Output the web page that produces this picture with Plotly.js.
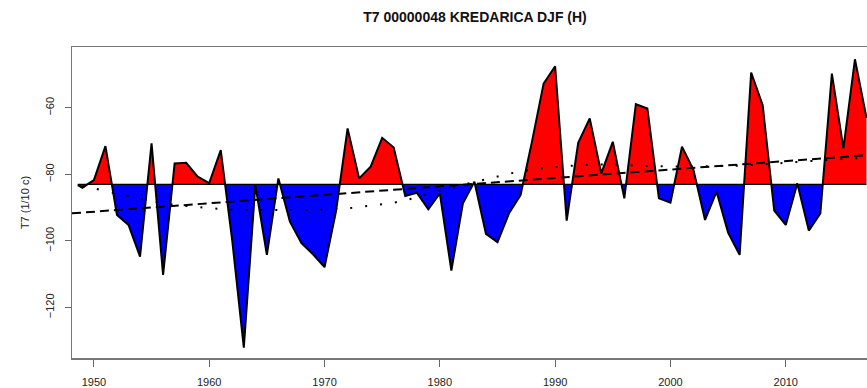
<!DOCTYPE html>
<html>
<head>
<meta charset="utf-8">
<script src="https://cdn.plot.ly/plotly-3.0.1.min.js"></script>
<style>
  html, body { margin: 0; padding: 0; overflow: hidden; background: #fff; }
  #chart { width: 890px; height: 388px; }
</style>
</head>
<body>
<div id="chart"></div>
<script>
// ---- data ----
const years = [1948.6, 1949, 1950, 1951, 1952, 1953, 1954, 1955, 1956, 1957, 1958,
  1959, 1960, 1961, 1962, 1963, 1964, 1965, 1966, 1967, 1968,
  1969, 1970, 1971, 1972, 1973, 1974, 1975, 1976, 1977, 1978,
  1979, 1980, 1981, 1982, 1983, 1984, 1985, 1986, 1987, 1988,
  1989, 1990, 1991, 1992, 1993, 1994, 1995, 1996, 1997, 1998,
  1999, 2000, 2001, 2002, 2003, 2004, 2005, 2006, 2007, 2008,
  2009, 2010, 2011, 2012, 2013, 2014, 2015, 2016, 2017];
const t7 = [-83.2, -84.0, -81.7, -71.5, -92.2, -95.2, -104.7, -70.7, -110.2, -76.7, -76.5,
  -80.7, -82.6, -72.7, -100.0, -132.1, -83.2, -104.2, -81.2, -94.2, -100.7,
  -104.0, -107.9, -91.0, -66.2, -81.2, -77.7, -69.0, -71.9, -86.5, -85.5,
  -90.5, -85.7, -108.9, -88.7, -82.2, -97.9, -100.4, -91.7, -86.2, -70.0,
  -52.7, -47.5, -93.9, -70.5, -63.2, -79.7, -70.2, -87.2, -58.9, -60.2,
  -87.2, -88.5, -71.7, -78.7, -93.7, -85.2, -97.5, -104.2, -49.4, -59.2,
  -90.9, -95.2, -82.7, -96.9, -91.7, -49.7, -72.2, -45.4, -63.0];
// smooth (dotted) curve
const smoothYears = [1949, 1950, 1952, 1954, 1956, 1958, 1960, 1962, 1964, 1966, 1968,
  1970, 1972, 1974, 1976, 1978, 1980, 1982, 1984, 1986, 1988, 1990, 1992, 1994,
  1996, 1998, 2000, 2002, 2004, 2006, 2008, 2010, 2013, 2017];
const smoothVals = [-83.6, -84.2, -85.8, -87.3, -88.7, -89.5, -90.1, -90.6, -90.7, -90.7, -90.7,
  -90.6, -90.2, -89.4, -88.5, -86.9, -84.9, -83.1, -81.5, -79.8, -78.6, -77.8, -77.3, -77.0,
  -77.2, -77.5, -77.6, -77.6, -77.5, -77.4, -77.0, -76.5, -75.8, -75.0];
const xTicks = [1950, 1960, 1970, 1980, 1990, 2000, 2010];
const yTicks = [-120, -100, -80, -60];
const xRange = [1948.1, 2018.0];
const yRange = [-135.2, -41.7];

// ---- derived ----
const n = years.length;
const base = t7.reduce((a, b) => a + b, 0) / n;

// split series at the baseline so the fill changes colour exactly there
const xs = [], ys = [];
for (let i = 0; i < n; i++) {
  if (i > 0) {
    const y0 = t7[i - 1] - base, y1 = t7[i] - base;
    if ((y0 > 0 && y1 < 0) || (y0 < 0 && y1 > 0)) {
      const f = y0 / (y0 - y1);
      xs.push(years[i - 1] + f * (years[i] - years[i - 1]));
      ys.push(base);
    }
  }
  xs.push(years[i]); ys.push(t7[i]);
}
const upper = ys.map(v => Math.max(v, base));
const lower = ys.map(v => Math.min(v, base));
const baseArr = xs.map(() => base);

// least-squares linear trend
const mx = years.reduce((a, b) => a + b, 0) / n;
let sxy = 0, sxx = 0;
for (let i = 0; i < n; i++) { sxy += (years[i] - mx) * (t7[i] - base); sxx += (years[i] - mx) ** 2; }
const slope = sxy / sxx;
const trendX = xRange.slice();
const trendY = trendX.map(x => base + slope * (x - mx));

const traces = [
  {x: xs, y: baseArr, mode: 'lines', line: {width: 0}, hoverinfo: 'skip', showlegend: false},
  {x: xs, y: upper, mode: 'lines', fill: 'tonexty', fillcolor: '#ff0000', line: {width: 0}, hoverinfo: 'skip', showlegend: false},
  {x: xs, y: baseArr, mode: 'lines', line: {width: 0}, hoverinfo: 'skip', showlegend: false},
  {x: xs, y: lower, mode: 'lines', fill: 'tonexty', fillcolor: '#0000ff', line: {width: 0}, hoverinfo: 'skip', showlegend: false},
  {x: [years[0], years[n - 1]], y: [base, base], mode: 'lines', line: {color: '#000', width: 1.2}, showlegend: false},
  {x: years, y: t7, mode: 'lines', line: {color: '#000', width: 2}, showlegend: false},
  {x: trendX, y: trendY, mode: 'lines', line: {color: '#000', width: 2, dash: '9px,5px'}, showlegend: false},
  {x: smoothYears, y: smoothVals, mode: 'lines', line: {color: '#000', width: 2, dash: '2px,13px', shape: 'spline'}, showlegend: false}
];

const layout = {
  width: 890, height: 388,
  margin: {l: 72, r: 12, t: 47, b: 30},
  paper_bgcolor: '#fff', plot_bgcolor: '#fff',
  font: {family: 'Liberation Sans, Arial, sans-serif', color: '#222', size: 11},
  title: {text: 'T7 00000048 KREDARICA DJF (H)', font: {size: 14, weight: 'bold', color: '#111'},
          x: 0.5, xref: 'paper', y: 0.955, yref: 'container', yanchor: 'middle'},
  xaxis: {range: xRange, tickvals: xTicks, ticktext: xTicks.map(String), ticks: 'outside', ticklen: 7,
          tickcolor: '#666', tickwidth: 1, showgrid: false, zeroline: false, showline: true,
          linecolor: '#777', linewidth: 1.5, mirror: true, ticklabelstandoff: 6,
          tickfont: {size: 11, color: '#222'}},
  yaxis: {range: yRange, tickvals: yTicks, ticktext: yTicks.map(v => v < 0 ? '\u2212' + Math.abs(v) : String(v)),
          tickangle: -90, ticks: 'outside', ticklen: 6,
          tickcolor: '#666', tickwidth: 1, showgrid: false, zeroline: false, showline: true,
          linecolor: '#777', linewidth: 1.5, mirror: true, ticklabelstandoff: 6,
          tickfont: {size: 11, color: '#222'},
          title: {text: 'T7 (1/10 c)', font: {size: 11, color: '#222'}, standoff: 12}}
};

Plotly.newPlot('chart', traces, layout, {staticPlot: true, displayModeBar: false});
</script>
</body>
</html>
